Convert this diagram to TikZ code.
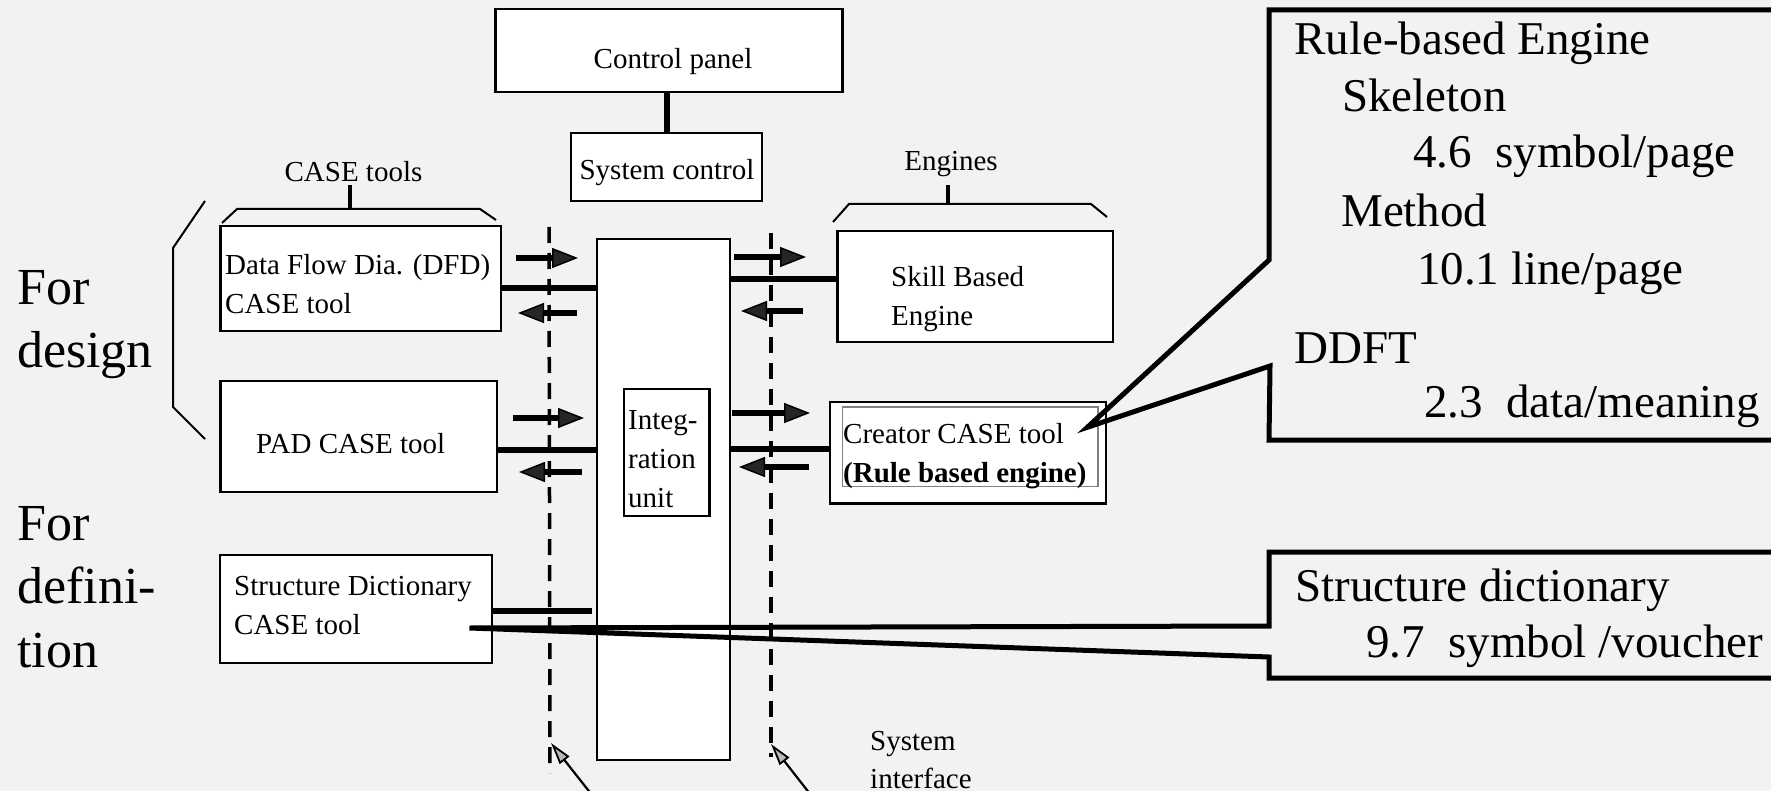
\documentclass[tikz,border=0pt]{standalone}
\usepackage{fontspec}
\setmainfont{Liberation Serif}
\usetikzlibrary{arrows.meta}
\definecolor{paper}{RGB}{242,242,242}
\newcommand\bxfont{\fontsize{29}{38}\selectfont}
\newcommand\sidefont{\fontsize{52}{63}\selectfont}
\newcommand\notefont{\fontsize{47}{57}\selectfont}

\begin{document}
\begin{tikzpicture}[x=1pt,y=-1pt,
  box/.style={draw, line width=2.8pt, fill=white, inner sep=0pt, rectangle},
  thinbox/.style={draw, line width=2.2pt, fill=white, inner sep=0pt, rectangle},
  lbl/.style={inner sep=0pt, anchor=base west, font=\bxfont},
  clbl/.style={inner sep=0pt, anchor=base, font=\bxfont},
  side/.style={inner sep=0pt, anchor=base west, font=\sidefont},
  note/.style={inner sep=0pt, anchor=base west, font=\notefont},
  bus/.style={line width=6pt},
  brk/.style={line width=2pt, line join=miter},
  tickmark/.style={line width=3.5pt},
  flow/.style={line width=6pt,
    -{Triangle[length=26pt,width=20pt,line width=1.5pt,fill=black!85]}},
  ifline/.style={line width=3.5pt, dash pattern=on 16pt off 10pt},
  pointer/.style={line width=2.2pt,
    -{Triangle[length=22pt,width=12pt,line width=1.8pt,fill=gray!55]}},
  callout/.style={line width=5pt, line join=miter}]

\clip (0,0) rectangle (1771,791);
\fill[paper] (0,0) rectangle (1771,791);

% brackets grouping the tools
\draw[brk] (205,201) -- (173,248) -- (173,407) -- (205,439);
\draw[brk] (222,223) -- (237,209) -- (480,209) -- (496,220);
\coordinate (caseBr) at (350,209);
\draw[tickmark] (caseBr) -- ++(0,-24);
\draw[brk] (833,222) -- (849,204) -- (1091,204) -- (1107,217);
\coordinate (engBr) at (948,204);
\draw[tickmark] (engBr) -- ++(0,-19);

% system interface boundaries
\coordinate (ifLa) at (549,227);
\coordinate (ifLb) at (550,773);
\coordinate (ifRa) at (771,233);
\coordinate (ifRb) at (771,757);
\draw[ifline] (ifLa) -- (ifLb);
\draw[ifline] (ifRa) -- (ifRb);
\coordinate (ifLtip) at (551,743);
\coordinate (ifRtip) at (771,744);
\draw[pointer] (603,809) -- (ifLtip);
\draw[pointer] (821,808) -- (ifRtip);

% boxes
\node[box, minimum width=347pt, minimum height=83pt] (cpanel) at (669.3,50.5) {};
\node[box, minimum width=191pt, minimum height=68pt] (sysctl) at (666.5,167) {};
\node[box, minimum width=280.5pt, minimum height=105pt] (dfd) at (360.75,278.5) {};
\node[box, minimum width=276.5pt, minimum height=111pt] (pad) at (358.75,436.5) {};
\node[box, minimum width=272pt, minimum height=108pt] (sdict) at (356,609) {};
\node[box, minimum width=275.5pt, minimum height=111pt] (skill) at (975.25,286.5) {};
\node[box, minimum width=276pt, minimum height=101.5pt] (creator) at (968,452.75) {};
\node[draw=gray, line width=1.2pt, fill=white, inner sep=0pt,
      minimum width=255.5pt, minimum height=79.5pt] (creatorin) at (970.25,446.75) {};
\node[thinbox, minimum width=133pt, minimum height=521pt] (integ) at (663.5,499.5) {};
\node[thinbox, minimum width=85.5pt, minimum height=127pt] (integin) at (666.75,452.5) {};

% connections to the integration unit
\draw[bus] (sysctl.north) -- (sysctl.north |- cpanel.south);
\coordinate (dfdR) at ([yshift=-9.5pt]dfd.east);
\draw[bus] (dfdR) -- (dfdR -| integ.west);
\coordinate (padR) at ([yshift=-13pt]pad.east);
\draw[bus] (padR) -- (padR -| integ.west);
\coordinate (sdR) at ([yshift=-2pt]sdict.east);
\draw[bus] (sdR) -- ([xshift=-4pt]sdR -| integ.west);
\coordinate (skL) at ([yshift=7.5pt]skill.west);
\draw[bus] (skL -| integ.east) -- (skL);
\coordinate (crL) at ([yshift=3.75pt]creator.west);
\draw[bus] (crL -| integ.east) -- (crL);

% data flow arrows
\draw[flow] (516,258) -- (578,258);
\draw[flow] (577,313) -- (518,313);
\draw[flow] (513,418) -- (584,418);
\draw[flow] (582,472) -- (519,472);
\draw[flow] (734,257) -- (806,257);
\draw[flow] (803,311) -- (741,311);
\draw[flow] (732,413) -- (810,413);
\draw[flow] (809,467) -- (739,467);

% box texts
\node[clbl] (cpT) at (673,69) {Control panel};
\node[clbl] (scT) at (667,180) {System control};
\node[clbl] (caseT) at (353.5,182) {CASE tools};
\node[clbl] (engT) at (951,171) {Engines};
\node[lbl] (dfdA) at (225,275) {Data Flow Dia. (DFD)};
\node[lbl] (dfdB) at (225,314) {CASE tool};
\node[lbl] (padT) at (256,453) {PAD CASE tool};
\node[lbl] (sdA) at (234,595) {Structure Dictionary};
\node[lbl] (sdB) at (234,634) {CASE tool};
\node[lbl] (skA) at (891,287) {Skill Based};
\node[lbl] (skB) at (891,326) {Engine};
\node[lbl] (crA) at (843,443) {Creator CASE tool};
\node[lbl] (crB) at (843,482) {\textbf{(Rule based engine)}};
\node[lbl] (inA) at (628,429) {Integ-};
\node[lbl] (inB) at (628,468) {ration};
\node[lbl] (inC) at (628,507) {unit};
\node[lbl] (siA) at (870,750) {System};
\node[lbl] (siB) at (870,788) {interface};

% side captions
\node[side] (fd1) at (17,305) {For};
\node[side] (fd2) at (17,367) {design};
\node[side] (fe1) at (17,540) {For};
\node[side] (fe2) at (17,603) {defini-};
\node[side] (fe3) at (17,667) {tion};

% callout for the rule based engine
\coordinate (rbTip) at ([shift={(-20pt,25.5pt)}]creator.east);
\draw[callout] (1269,10) -- (1269,260) -- (rbTip) -- (1270,366) -- (1269,440)
  -- (1800,440) -- (1800,10) -- cycle;
\node[note] (rb1) at (1294,55) {Rule-based Engine};
\node[note] (rb2) at (1342,112) {Skeleton};
\node[note] (rb3) at (1413,168) {4.6\ \ symbol/page};
\node[note] (rb4) at (1341,227) {Method};
\node[note] (rb5) at (1417,285) {10.1 line/page};
\node[note] (rb6) at (1294,363) {DDFT};
\node[note] (rb7) at (1424,417) {2.3\ \ data/meaning};

% callout for the structure dictionary
\coordinate (sdTip) at ([shift={(-24pt,-19pt)}]sdict.east);
\draw[callout] (1269,552) -- (1269,626) -- (sdTip) -- (1269,657) -- (1269,678)
  -- (1800,678) -- (1800,552) -- cycle;
\node[note] (sd1) at (1295,601) {Structure dictionary};
\node[note] (sd2) at (1366,657) {9.7\ \ symbol /voucher};

\end{tikzpicture}
\end{document}
